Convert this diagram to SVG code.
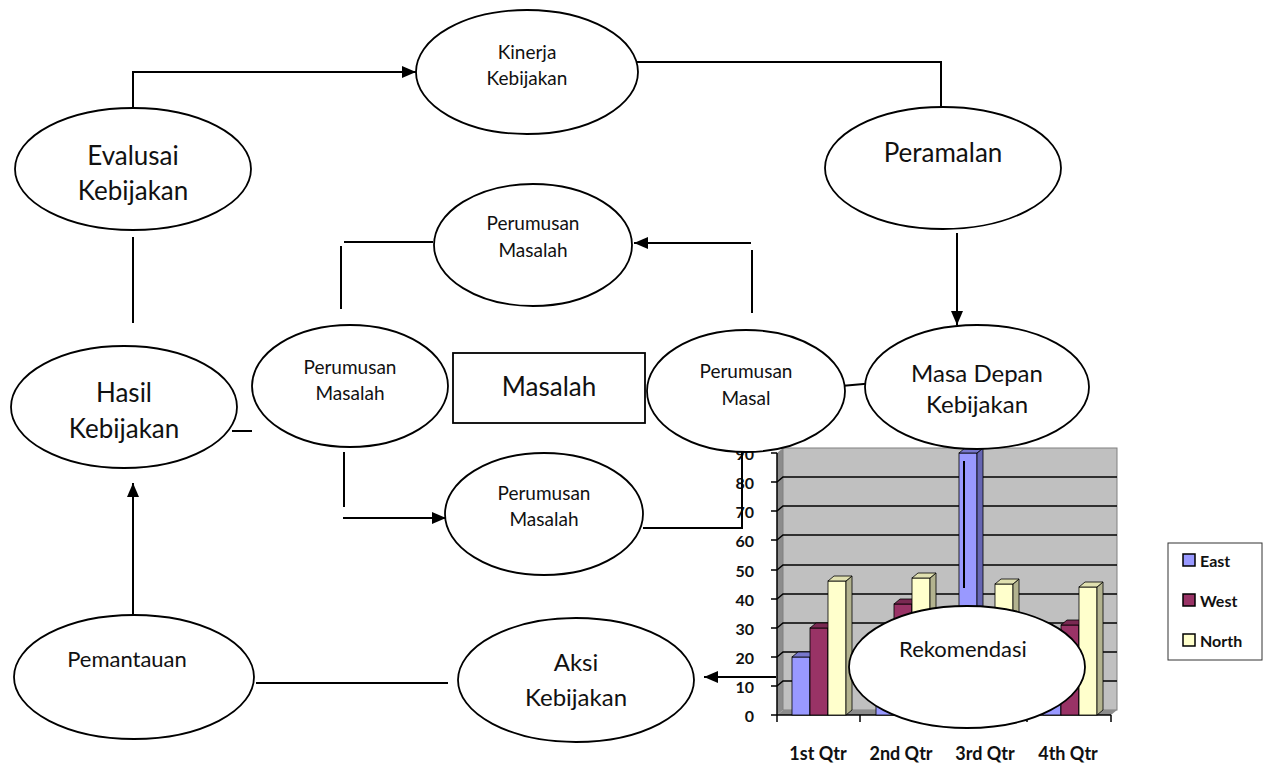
<svg xmlns="http://www.w3.org/2000/svg" width="1264" height="765" viewBox="0 0 1264 765">
<style>
.nd{fill:#fff;stroke:#000;stroke-width:1.8}
.t{font-family:Lato,"Liberation Sans",sans-serif;fill:#111;text-anchor:middle;dominant-baseline:central}
.big{font-size:26px}
.mid{font-size:24px}
.sm{font-size:19px}
.cn{fill:none;stroke:#000;stroke-width:2}
.ax{fill:none;stroke:#000;stroke-width:1.5}
.lb{font-family:Lato,"Liberation Sans",sans-serif;font-weight:bold;font-size:16px;fill:#111;dominant-baseline:central}
.cat{font-size:18px;text-anchor:middle}
.e{fill:#9999FF;stroke:#000;stroke-width:0.8}.es{fill:#6666B3;stroke:#000;stroke-width:0.8}.et{fill:#7777CC;stroke:#000;stroke-width:0.8}
.w{fill:#993366;stroke:#000;stroke-width:0.8}.ws{fill:#6B2347;stroke:#000;stroke-width:0.8}.wt{fill:#7A2952;stroke:#000;stroke-width:0.8}
.n{fill:#FFFFCC;stroke:#000;stroke-width:0.8}.ns{fill:#B3B38F;stroke:#000;stroke-width:0.8}.nt{fill:#E0E0B0;stroke:#000;stroke-width:0.8}
</style>
<defs>
<marker id="ah" markerUnits="userSpaceOnUse" viewBox="0 0 14 12" refX="14" refY="6" markerWidth="14" markerHeight="12" orient="auto">
<path d="M0,0 L14,6 L0,12 z" fill="#000"/>
</marker>
</defs>
<rect width="1264" height="765" fill="#fff"/>

<g id="chart">
<polygon points="777,453 783,448 783,710 777,715" fill="#8c8c8c"/>
<rect x="783" y="448" width="334" height="262" fill="#c0c0c0" stroke="#808080" stroke-width="1"/>
<polygon points="777,715 783,710 1117,710 1111,715" fill="#8c8c8c"/>
<path class="ax" d="M777,686 L783,681 H1117 M777,657 L783,652 H1117 M777,628 L783,623 H1117 M777,599 L783,594 H1117 M777,570 L783,565 H1117 M777,540 L783,535 H1117 M777,511 L783,506 H1117 M777,482 L783,477 H1117"/>
<path class="ax" d="M777,453 V715 M771,715 H777 M771,686 H777 M771,657 H777 M771,628 H777 M771,599 H777 M771,570 H777 M771,540 H777 M771,511 H777 M771,482 H777 M771,453 H777"/>
<path class="ax" d="M777,715 H1111 M777,715 V722 M860,715 V722 M944,715 V722 M1027,715 V722 M1111,715 V722"/>
<g id="bars">
<rect class="e" x="792" y="657" width="18" height="58"/><polygon class="es" points="810,657 816,652 816,710 810,715"/><polygon class="et" points="792,657 798,652 816,652 810,657"/>
<rect class="w" x="810" y="628" width="18" height="87"/><polygon class="ws" points="828,628 834,623 834,710 828,715"/><polygon class="wt" points="810,628 816,623 834,623 828,628"/>
<rect class="n" x="828" y="581" width="18" height="134"/><polygon class="ns" points="846,581 852,576 852,710 846,715"/><polygon class="nt" points="828,581 834,576 852,576 846,581"/>
<rect class="e" x="876" y="639" width="18" height="76"/><polygon class="es" points="894,639 900,634 900,710 894,715"/><polygon class="et" points="876,639 882,634 900,634 894,639"/>
<rect class="w" x="894" y="604" width="18" height="111"/><polygon class="ws" points="912,604 918,599 918,710 912,715"/><polygon class="wt" points="894,604 900,599 918,599 912,604"/>
<rect class="n" x="912" y="578" width="18" height="137"/><polygon class="ns" points="930,578 936,573 936,710 930,715"/><polygon class="nt" points="912,578 918,573 936,573 930,578"/>
<rect class="e" x="959" y="453" width="18" height="262"/><polygon class="es" points="977,453 983,448 983,710 977,715"/><polygon class="et" points="959,453 965,448 983,448 977,453"/>
<rect class="w" x="977" y="613" width="18" height="102"/><polygon class="ws" points="995,613 1001,608 1001,710 995,715"/><polygon class="wt" points="977,613 983,608 1001,608 995,613"/>
<rect class="n" x="995" y="584" width="18" height="131"/><polygon class="ns" points="1013,584 1019,579 1019,710 1013,715"/><polygon class="nt" points="995,584 1001,579 1019,579 1013,584"/>
<rect class="e" x="1043" y="636" width="18" height="79"/><polygon class="es" points="1061,636 1067,631 1067,710 1061,715"/><polygon class="et" points="1043,636 1049,631 1067,631 1061,636"/>
<rect class="w" x="1061" y="625" width="18" height="90"/><polygon class="ws" points="1079,625 1085,620 1085,710 1079,715"/><polygon class="wt" points="1061,625 1067,620 1085,620 1079,625"/>
<rect class="n" x="1079" y="587" width="18" height="128"/><polygon class="ns" points="1097,587 1103,582 1103,710 1097,715"/><polygon class="nt" points="1079,587 1085,582 1103,582 1097,587"/>
</g>
<text class="lb" x="754" y="715" text-anchor="end">0</text>
<text class="lb" x="754" y="686" text-anchor="end">10</text>
<text class="lb" x="754" y="657" text-anchor="end">20</text>
<text class="lb" x="754" y="628" text-anchor="end">30</text>
<text class="lb" x="754" y="599" text-anchor="end">40</text>
<text class="lb" x="754" y="570" text-anchor="end">50</text>
<text class="lb" x="754" y="540" text-anchor="end">60</text>
<text class="lb" x="754" y="511" text-anchor="end">70</text>
<text class="lb" x="754" y="482" text-anchor="end">80</text>
<text class="lb" x="754" y="453" text-anchor="end">90</text>
<text class="lb cat" x="818" y="753">1st Qtr</text>
<text class="lb cat" x="901" y="753">2nd Qtr</text>
<text class="lb cat" x="985" y="753">3rd Qtr</text>
<text class="lb cat" x="1068" y="753">4th Qtr</text>
</g>

<g id="legend">
<rect x="1168" y="543" width="94" height="117" fill="#fff" stroke="#333" stroke-width="1"/>
<rect x="1183" y="554" width="12" height="12" fill="#9999FF" stroke="#000" stroke-width="1.5"/>
<rect x="1183" y="594" width="12" height="12" fill="#993366" stroke="#000" stroke-width="1.5"/>
<rect x="1183" y="634" width="12" height="12" fill="#FFFFCC" stroke="#000" stroke-width="1.5"/>
<text class="lb" x="1200" y="560">East</text>
<text class="lb" x="1200" y="600">West</text>
<text class="lb" x="1200" y="640">North</text>
</g>

<g id="connectors">
<path class="cn" d="M133,125 V72 H416" marker-end="url(#ah)"/>
<path class="cn" d="M637,62 H941 V127"/>
<path class="cn" d="M957,233 V325" marker-end="url(#ah)"/>
<path class="cn" d="M841,386 L875,383"/>
<path class="cn" d="M752,313 V250"/>
<path class="cn" d="M751,243 H634" marker-end="url(#ah)"/>
<path class="cn" d="M433,242 H344"/>
<path class="cn" d="M341,246 V309"/>
<path class="cn" d="M232,431 H252"/>
<path class="cn" d="M344,452 V507"/>
<path class="cn" d="M343,518 H446" marker-end="url(#ah)"/>
<path class="cn" d="M643,528 H742 V452"/>
<path class="cn" d="M776,677 H704" marker-end="url(#ah)"/>
<path class="cn" d="M448,683 H256"/>
<path class="cn" d="M133,615 V483" marker-end="url(#ah)"/>
<path class="cn" d="M133,237 V323"/>
<path class="cn" d="M964,461 V588"/>
</g>

<g id="kinerja"><ellipse class="nd" cx="527" cy="72" rx="111" ry="62"/><text class="t sm" x="527" y="51">Kinerja</text><text class="t sm" x="527" y="77">Kebijakan</text></g>
<g id="evaluasi"><ellipse class="nd" cx="133" cy="169" rx="118" ry="61"/><text class="t big" x="133" y="155">Evalusai</text><text class="t big" x="133" y="190">Kebijakan</text></g>
<g id="peramalan"><ellipse class="nd" cx="943" cy="168" rx="118" ry="61"/><text class="t big" x="943" y="152">Peramalan</text></g>
<g id="perumusan-top"><ellipse class="nd" cx="533" cy="245" rx="99" ry="61"/><text class="t sm" x="533" y="222">Perumusan</text><text class="t sm" x="533" y="249">Masalah</text></g>
<g id="hasil"><ellipse class="nd" cx="124" cy="407" rx="113" ry="61"/><text class="t big" x="124" y="392">Hasil</text><text class="t big" x="124" y="428">Kebijakan</text></g>
<g id="perumusan-left"><ellipse class="nd" cx="350" cy="386" rx="98" ry="61"/><text class="t sm" x="350" y="366">Perumusan</text><text class="t sm" x="350" y="392">Masalah</text></g>
<g id="masalah"><rect class="nd" x="453" y="353" width="192" height="70"/><text class="t big" x="549" y="386">Masalah</text></g>
<g id="perumusan-masal"><ellipse class="nd" cx="746" cy="391" rx="99" ry="61"/><text class="t sm" x="746" y="370">Perumusan</text><text class="t sm" x="746" y="397">Masal</text></g>
<g id="masa-depan"><ellipse class="nd" cx="977" cy="387" rx="112" ry="62"/><text class="t mid" x="977" y="372">Masa Depan</text><text class="t mid" x="977" y="403">Kebijakan</text></g>
<g id="perumusan-bottom"><ellipse class="nd" cx="544" cy="514" rx="99" ry="61"/><text class="t sm" x="544" y="492">Perumusan</text><text class="t sm" x="544" y="518">Masalah</text></g>
<g id="pemantauan"><ellipse class="nd" cx="134" cy="677" rx="120" ry="62"/><text class="t" x="127" y="658" style="font-size:22px">Pemantauan</text></g>
<g id="aksi"><ellipse class="nd" cx="576" cy="680" rx="118" ry="62"/><text class="t mid" x="576" y="661">Aksi</text><text class="t mid" x="576" y="696">Kebijakan</text></g>
<g id="rekomendasi"><ellipse class="nd" cx="967" cy="667" rx="118" ry="61"/><text class="t" x="963" y="648" style="font-size:22px">Rekomendasi</text></g>
</svg>
